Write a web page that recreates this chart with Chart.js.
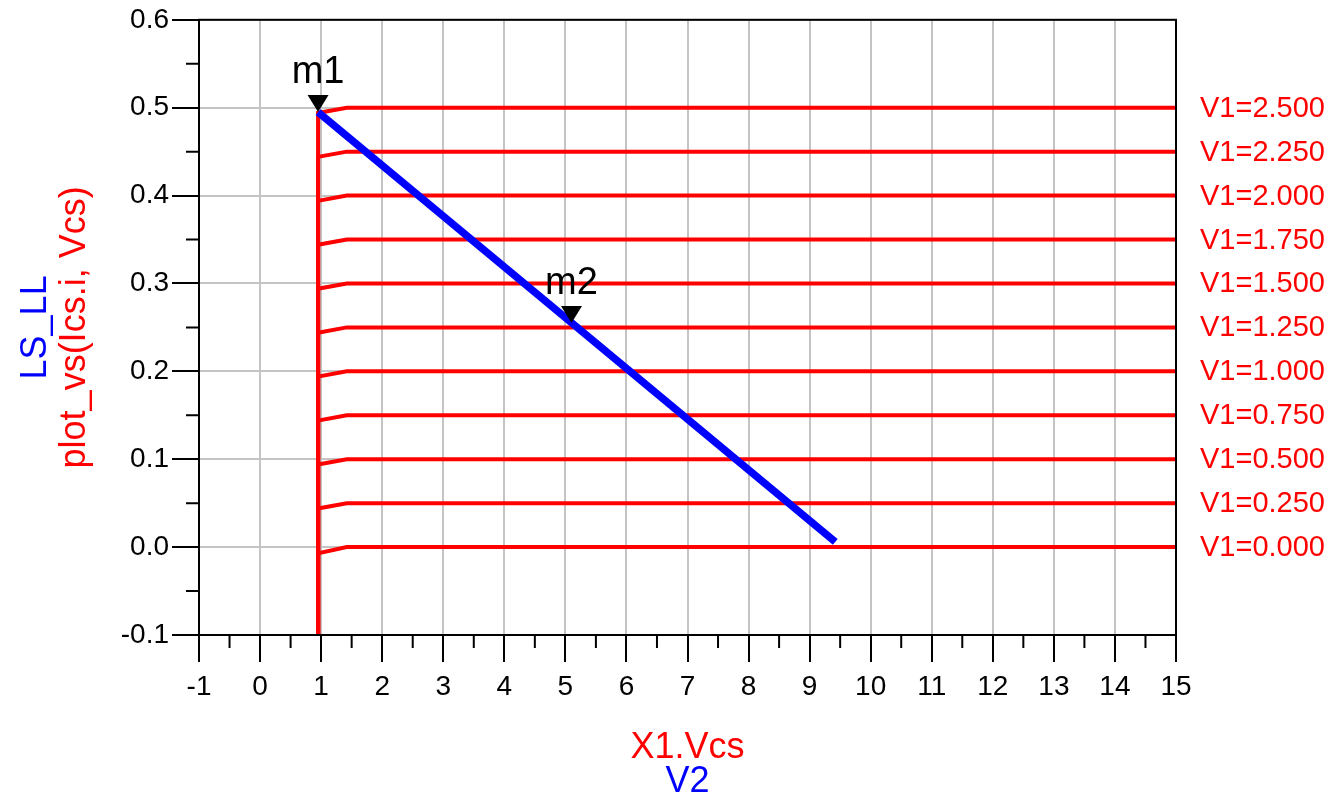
<!DOCTYPE html>
<html>
<head>
<meta charset="utf-8">
<title>plot_vs(Ics.i, Vcs)</title>
<script src="https://cdn.jsdelivr.net/npm/chart.js@4.4.1/dist/chart.umd.min.js"></script>
<style>
  html, body { margin: 0; padding: 0; background: #fff; }
  canvas { display: block; }
</style>
</head>
<body>
<canvas id="ivChart" width="1338" height="800"></canvas>
<script>
// 扫描参数 V1 及对应的 Ics 电流
const v1Labels = ['V1=0.000', 'V1=0.250', 'V1=0.500', 'V1=0.750', 'V1=1.000', 'V1=1.250',
                  'V1=1.500', 'V1=1.750', 'V1=2.000', 'V1=2.250', 'V1=2.500'];
const icsLevel = [0.000, 0.050, 0.100, 0.150, 0.200, 0.250, 0.300, 0.350, 0.400, 0.450, 0.500];
const icsKnee  = [-0.007, 0.044, 0.094, 0.144, 0.194, 0.244, 0.294, 0.344, 0.394, 0.444, 0.494];
// 每条曲线的 Vcs 折点
const vcsStart = 0.95;
const vcsKnee = 1.42;
const vcsEnd = 15;
const icsFloor = -0.1;

// 负载线 LS_LL
const loadX = [0.95, 9.42];
const loadY = [0.495, 0.006];

// 标记点
const markerNames = ['m1', 'm2'];
const markerX = [0.95, 5.10];
const markerY = [0.495, 0.255];

const RED = '#ff0000';
const BLUE = '#0000ff';
const FONT = '"Liberation Sans", Arial, Helvetica, sans-serif';

const curveSets = icsLevel.map(function (level, i) {
    return {
        label: v1Labels[i],
        data: [
            { x: vcsStart, y: icsFloor },
            { x: vcsStart, y: icsKnee[i] },
            { x: vcsKnee, y: level },
            { x: vcsEnd, y: level }
        ],
        borderColor: RED,
        borderWidth: 4,
        order: 1
    };
});

const loadSet = {
    label: 'LS_LL',
    data: loadX.map(function (x, i) { return { x: x, y: loadY[i] }; }),
    borderColor: BLUE,
    borderWidth: 7.5,
    order: 0
};

// 次刻度、外框、标题、标记、右侧标签
const decorPlugin = {
    id: 'decor',
    afterDraw: function (chart) {
        const ctx = chart.ctx;
        const area = chart.chartArea;
        const xs = chart.scales.x;
        const ys = chart.scales.y;
        ctx.save();

        // 次刻度
        ctx.strokeStyle = '#000';
        ctx.lineWidth = 2;
        ctx.beginPath();
        const xt = xs.ticks;
        for (let i = 0; i < xt.length - 1; i++) {
            const px = xs.getPixelForValue((xt[i].value + xt[i + 1].value) / 2);
            ctx.moveTo(px, area.bottom);
            ctx.lineTo(px, area.bottom + 13);
        }
        const yt = ys.ticks;
        for (let i = 0; i < yt.length - 1; i++) {
            const py = ys.getPixelForValue((yt[i].value + yt[i + 1].value) / 2);
            ctx.moveTo(area.left, py);
            ctx.lineTo(area.left - 13, py);
        }
        ctx.stroke();

        // 外框
        ctx.strokeRect(area.left, area.top, area.right - area.left, area.bottom - area.top);

        // 标记
        ctx.fillStyle = '#000';
        ctx.font = '38px ' + FONT;
        ctx.textAlign = 'center';
        ctx.textBaseline = 'alphabetic';
        markerNames.forEach(function (name, i) {
            const px = xs.getPixelForValue(markerX[i]);
            const py = ys.getPixelForValue(markerY[i]);
            ctx.beginPath();
            ctx.moveTo(px, py);
            ctx.lineTo(px - 10.5, py - 17);
            ctx.lineTo(px + 10.5, py - 17);
            ctx.closePath();
            ctx.fill();
            ctx.fillText(name, px, py - 29);
        });

        // 右侧 V1 标签
        ctx.fillStyle = RED;
        ctx.font = '29px ' + FONT;
        ctx.textAlign = 'left';
        ctx.textBaseline = 'middle';
        v1Labels.forEach(function (text, i) {
            ctx.fillText(text, area.right + 24, ys.getPixelForValue(icsLevel[i]) + 1);
        });

        // 坐标轴标题
        const midX = (area.left + area.right) / 2;
        const midY = (area.top + area.bottom) / 2;
        ctx.font = '36px ' + FONT;
        ctx.textAlign = 'center';
        ctx.fillStyle = RED;
        ctx.fillText('X1.Vcs', midX, 748);
        ctx.fillStyle = BLUE;
        ctx.fillText('V2', midX, 782);

        ctx.translate(0, midY);
        ctx.rotate(-Math.PI / 2);
        ctx.fillStyle = BLUE;
        ctx.fillText('LS_LL', 0, 36);
        ctx.fillStyle = RED;
        ctx.fillText('plot_vs(Ics.i, Vcs)', 0, 75);
        ctx.restore();
    }
};

function initChart() {
    const ctx = document.getElementById('ivChart');
    new Chart(ctx, {
        type: 'line',
        data: { datasets: [loadSet].concat(curveSets) },
        options: {
            responsive: false,
            devicePixelRatio: 1,
            animation: false,
            parsing: false,
            elements: {
                point: { radius: 0 },
                line: { tension: 0, fill: false }
            },
            layout: {
                padding: { top: 18, right: 162, left: 0, bottom: 0 }
            },
            scales: {
                x: {
                    type: 'linear',
                    min: -1,
                    max: 15,
                    ticks: {
                        stepSize: 1,
                        color: '#000',
                        padding: 8,
                        font: { family: FONT, size: 28 }
                    },
                    grid: {
                        color: '#c4c4c4',
                        lineWidth: 2,
                        tickColor: '#000',
                        tickLength: 27,
                        tickWidth: 2
                    },
                    border: { color: '#000', width: 2 },
                    afterFit: function (scale) { scale.height = 165; }
                },
                y: {
                    type: 'linear',
                    min: -0.1,
                    max: 0.6,
                    ticks: {
                        stepSize: 0.1,
                        color: '#000',
                        padding: 3,
                        font: { family: FONT, size: 28 },
                        callback: function (v) {
                            const s = (Math.abs(v) < 1e-9 ? 0 : v).toFixed(1);
                            return s;
                        }
                    },
                    grid: {
                        color: '#c4c4c4',
                        lineWidth: 2,
                        tickColor: '#000',
                        tickLength: 27,
                        tickWidth: 2
                    },
                    border: { color: '#000', width: 2 },
                    afterFit: function (scale) { scale.width = 199; }
                }
            },
            plugins: {
                legend: { display: false },
                tooltip: { enabled: false }
            }
        },
        plugins: [decorPlugin]
    });
}

document.addEventListener('DOMContentLoaded', initChart);
</script>
</body>
</html>
